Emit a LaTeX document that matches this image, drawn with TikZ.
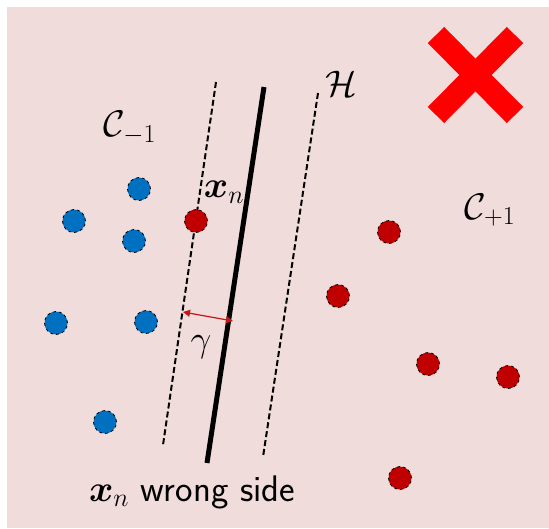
\documentclass[tikz,border=0pt]{standalone}
\usepackage{fix-cm}
\usepackage{amsmath,amssymb}
\usetikzlibrary{arrows.meta}
\definecolor{bgpink}{RGB}{241,220,220}
\definecolor{dotblue}{RGB}{0,112,192}
\definecolor{dotred}{RGB}{192,0,0}
\definecolor{xred}{RGB}{255,0,0}
\definecolor{arrred}{RGB}{200,20,20}
\tikzset{
  bluedot/.style={circle,fill=dotblue,draw=black,dashed,line width=0.8pt,minimum size=23pt,inner sep=0pt},
  reddot/.style={circle,fill=dotred,draw=black,dashed,line width=0.8pt,minimum size=23pt,inner sep=0pt},
  marginline/.style={draw=black,line width=2pt,dash pattern=on 6pt off 3pt},
  hyperline/.style={draw=black,line width=5pt},
  bigfont/.style={font=\fontsize{37}{44}\selectfont,inner sep=0pt},
  crossarm/.style={draw=xred,line width=23pt,line cap=butt}
}
\begin{document}
\begin{tikzpicture}[x=1pt,y=-1pt]
\useasboundingbox (0,0) rectangle (549,528);
\fill[bgpink] (7,7) rectangle (549,528);
% big cross
\coordinate (c1a) at (436,35); \coordinate (c1b) at (515,115);
\coordinate (c2a) at (515,35); \coordinate (c2b) at (436,115);
\draw[crossarm] (c1a) -- (c1b);
\draw[crossarm] (c2a) -- (c2b);
% lines
\coordinate (ldt) at (216,82); \coordinate (ldb) at (163,445);
\coordinate (st) at (264,87); \coordinate (sb) at (207,463);
\coordinate (rdt) at (318,93); \coordinate (rdb) at (263,457);
\draw[marginline] (ldt) -- (ldb);
\draw[hyperline] (st) -- (sb);
\draw[marginline] (rdt) -- (rdb);
% labels
\node[bigfont] (H) at (341,84) {$\mathcal{H}$};
\node[bigfont] (Cm) at (130,128) {$\mathcal{C}_{-1}$};
\node[bigfont] (Cp) at (490,210) {$\mathcal{C}_{+1}$};
\node[bigfont] (xn) at (224,192) {$\boldsymbol{x}_n$};
\node[bigfont] (gam) at (201,347) {$\gamma$};
\node[bigfont] (ws) at (192,492) {$\boldsymbol{x}_n$ \sffamily wrong side};
% blue points
\node[bluedot] (b1) at (139,189) {};
\node[bluedot] (b2) at (74,221) {};
\node[bluedot] (b3) at (134,241) {};
\node[bluedot] (b4) at (56,323) {};
\node[bluedot] (b5) at (146,322) {};
\node[bluedot] (b6) at (105,422) {};
% red points
\node[reddot] (r0) at (196,221) {};
\node[reddot] (r1) at (389,232) {};
\node[reddot] (r2) at (338,296) {};
\node[reddot] (r3) at (428,364) {};
\node[reddot] (r4) at (508,377) {};
\node[reddot] (r5) at (400,478) {};
% margin arrow
\coordinate (ga) at (183,312);
\coordinate (gb) at (233,321);
\draw[arrred,line width=1.2pt,{Triangle[length=7pt,width=7pt]}-{Triangle[length=7pt,width=7pt]}] (ga) -- (gb);
\end{tikzpicture}
\end{document}
